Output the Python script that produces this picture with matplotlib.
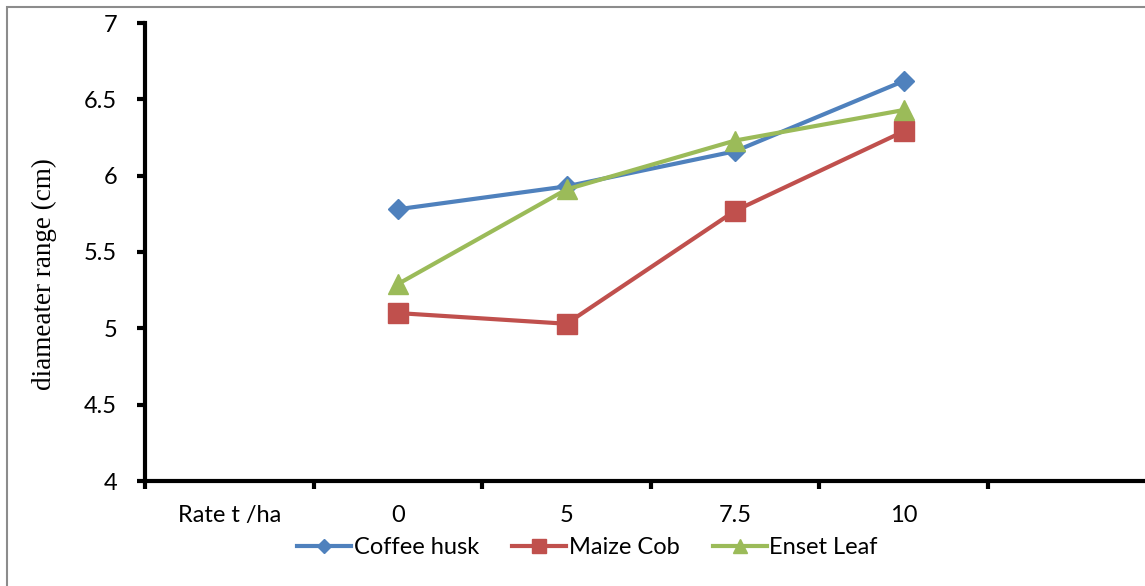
import matplotlib
matplotlib.use('AGG')
import numpy as np
import matplotlib.pyplot as plt
from matplotlib.patches import Rectangle

# categories on the x axis (first one has no data)
categories = ['Rate t /ha', '0', '5', '7.5', '10']
rates = ['0', '5', '7.5', '10']
coffee_husk = [5.78, 5.93, 6.16, 6.62]
maize_cob = [5.10, 5.03, 5.77, 6.29]
enset_leaf = [5.29, 5.91, 6.23, 6.43]

FONT = 'Lato'
FS = 17

fig = plt.figure(figsize=(11.45, 5.86), dpi=100)
ax = fig.add_axes([145/1145, 1-481/586, 1-145/1145, (481-23)/586])

xpos = np.arange(1, len(rates)+1)  # data sit after the "Rate t /ha" slot
ax.plot(xpos, coffee_husk, color='#4F81BD', lw=3, marker='D', ms=10, label='Coffee husk')
ax.plot(xpos, maize_cob, color='#C0504D', lw=3, marker='s', ms=14, label='Maize Cob')
ax.plot(xpos, enset_leaf, color='#9BBB59', lw=3, marker='^', ms=14, label='Enset Leaf')

ax.set_xlim(-0.5, -0.5 + 1000/168.6)
ax.set_ylim(4, 7)
ax.set_yticks(np.arange(4, 7.01, 0.5))
ax.set_yticklabels(['4', '4.5', '5', '5.5', '6', '6.5', '7'])

# boundary ticks without labels, labels centred on categories
ax.set_xticks(np.arange(-0.5, 5, 1.0))
ax.set_xticklabels([])
ax.set_xticks(np.arange(len(categories)), minor=True)
ax.set_xticklabels(categories, minor=True)

ax.tick_params(axis='x', which='major', direction='out', length=6, width=3)
ax.tick_params(axis='x', which='minor', length=0, pad=17, labelsize=FS)
ax.tick_params(axis='y', direction='out', length=6, width=3, pad=14, labelsize=FS)

for s in ['top', 'right']:
    ax.spines[s].set_visible(False)
for s in ['left', 'bottom']:
    ax.spines[s].set_linewidth(3)

for lab in ax.get_xticklabels(minor=True) + ax.get_yticklabels():
    lab.set_family(FONT)

ax.set_ylabel('diameater range (cm)', family='Liberation Serif', fontsize=19.5)
ax.yaxis.set_label_coords(-0.088, 0.452)

fig.legend(loc='center', bbox_to_anchor=(0.513, 0.065), ncol=3, frameon=False,
           handlelength=2.3, handletextpad=0.1, columnspacing=1.4, markerscale=0.7,
           prop={'family': FONT, 'size': FS})

fig.patches.append(Rectangle((7/1145, -0.1), 1.2, (586-7)/586 + 0.1, transform=fig.transFigure,
                             fill=False, edgecolor='#8c8c8c', lw=1.5))

fig.savefig('out.png', dpi=100)
